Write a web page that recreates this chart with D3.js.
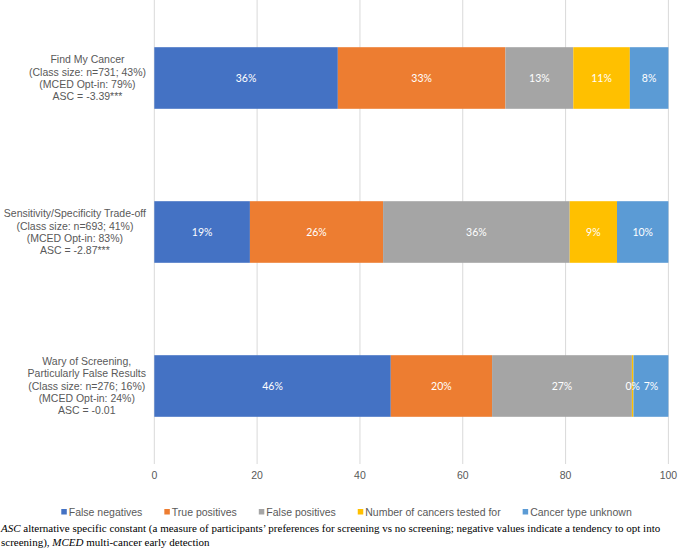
<!DOCTYPE html>
<html>
<head>
<meta charset="utf-8">
<script src="https://cdn.jsdelivr.net/npm/d3@7"></script>
<style>
  body { margin: 0; background: #fff; }
  svg { display: block; }
</style>
</head>
<body>
<div id="container"></div>
<script>
// class labels, one array of lines per bar
const classes = [
  ["Find My Cancer", "(Class size: n=731; 43%)", "(MCED Opt-in: 79%)", "ASC = -3.39***"],
  ["Sensitivity/Specificity Trade-off", "(Class size: n=693; 41%)", "(MCED Opt-in: 83%)", "ASC = -2.87***"],
  ["Wary of Screening,", "Particularly False Results", "(Class size: n=276; 16%)", "(MCED Opt-in: 24%)", "ASC = -0.01"]
]
const series = ["False negatives", "True positives", "False positives", "Number of cancers tested for", "Cancer type unknown"]
const colors = ["#4472C4", "#ED7D31", "#A5A5A5", "#FFC000", "#5B9BD5"]
// segment values per series (bar order as in classes)
const falseNeg = [35.7, 18.6, 46.0]
const truePos = [32.6, 25.9, 19.7]
const falsePos = [13.2, 36.3, 27.2]
const numTested = [11.0, 9.2, 0.3]
const typeUnknown = [7.5, 10.0, 6.8]
const segLabels = [
  ["36%", "19%", "46%"],
  ["33%", "26%", "20%"],
  ["13%", "36%", "27%"],
  ["11%", "9%", "0%"],
  ["8%", "10%", "7%"]
]
const xTicks = [0, 20, 40, 60, 80, 100]

const W = 678, H = 549
const svg = d3.select('#container').append('svg').attr('width', W).attr('height', H)
const font = "'Liberation Sans', Arial, sans-serif"
const grey = "#595959"

const x = d3.scaleLinear().domain([0, 100]).range([154.3, 668.4])
const y = d3.scaleBand().domain(d3.range(classes.length)).range([1, 463]).paddingInner(0.6).paddingOuter(0.3)

// gridlines
svg.append('g').selectAll('line').data(xTicks).join('line')
  .attr('x1', d => x(d)).attr('x2', d => x(d))
  .attr('y1', 0).attr('y2', 464)
  .attr('stroke', '#d9d9d9').attr('stroke-width', 1)

const table = classes.map((c, i) => ({
  i, vals: [falseNeg[i], truePos[i], falsePos[i], numTested[i], typeUnknown[i]]
}))
const stacked = d3.stack().keys(d3.range(series.length)).value((d, k) => d.vals[k])(table)

const layers = svg.append('g').selectAll('g').data(stacked).join('g')
  .attr('fill', (d, k) => colors[k])
layers.selectAll('rect').data(d => d).join('rect')
  .attr('x', d => x(d[0]))
  .attr('width', d => x(d[1]) - x(d[0]))
  .attr('y', d => y(d.data.i))
  .attr('height', y.bandwidth())

// segment labels, drawn above all bars so the 0% one is not hidden
const labelLayer = svg.append('g')
stacked.forEach((layer, k) => {
  labelLayer.append('g').selectAll('text').data(layer).join('text')
    .attr('x', d => (x(d[0]) + x(d[1])) / 2)
    .attr('y', d => y(d.data.i) + y.bandwidth() / 2)
    .attr('dy', '0.35em')
    .attr('text-anchor', 'middle')
    .attr('fill', '#fff')
    .style('font-family', "Lato, 'Open Sans', sans-serif")
    .style('font-size', '10.5px')
    .text(d => segLabels[k][d.data.i])
})

// category labels: block right edge at 146, lines centred in block
const labelG = svg.append('g')
classes.forEach((lines, i) => {
  const g = labelG.append('g')
  const lh = 12.2
  const cy = y(i) + y.bandwidth() / 2
  const texts = lines.map((t, j) => g.append('text')
    .attr('y', cy + (j - (lines.length - 1) / 2) * lh)
    .attr('dy', '0.35em')
    .attr('text-anchor', 'middle')
    .attr('fill', grey)
    .style('font-family', font)
    .style('font-size', '10.5px')
    .text(t))
  const maxW = d3.max(texts, t => t.node().getComputedTextLength())
  texts.forEach(t => t.attr('x', 146 - maxW / 2))
})

// x axis tick labels
svg.append('g').selectAll('text').data(xTicks).join('text')
  .attr('x', d => x(d)).attr('y', 475).attr('dy', '0.35em')
  .attr('text-anchor', 'middle')
  .attr('fill', grey)
  .style('font-family', font).style('font-size', '10.5px')
  .text(d => d)

// legend
const legend = svg.append('g')
let lx = 0
const items = series.map((s, k) => {
  const g = legend.append('g')
  g.append('rect').attr('x', 0).attr('y', 509).attr('width', 5.5).attr('height', 5.5).attr('fill', colors[k])
  const t = g.append('text').attr('x', 7.5).attr('y', 512).attr('dy', '0.35em')
    .attr('fill', grey)
    .style('font-family', font).style('font-size', '10.5px')
    .text(s)
  lx += 7.5 + t.node().getComputedTextLength() + 22
  return g
})
const totalW = lx - 22
lx = (67 + 626) / 2 - totalW / 2
items.forEach(g => {
  const w = g.select('text').node().getComputedTextLength()
  g.attr('transform', `translate(${lx},0)`)
  lx += 7.5 + w + 22
})

// caption
const cap = svg.append('g').style('font-family', "'Liberation Serif', 'Times New Roman', serif")
  .style('font-size', '11px').attr('fill', '#000')
const l1 = cap.append('text').attr('x', 1).attr('y', 532)
l1.append('tspan').style('font-style', 'italic').text('ASC')
l1.append('tspan').text(' alternative specific constant (a measure of participants\u2019 preferences for screening vs no screening; negative values indicate a tendency to opt into')
const l2 = cap.append('text').attr('x', 1).attr('y', 545.5)
l2.append('tspan').text('screening), ')
l2.append('tspan').style('font-style', 'italic').text('MCED')
l2.append('tspan').text(' multi-cancer early detection')
</script>
</body>
</html>
